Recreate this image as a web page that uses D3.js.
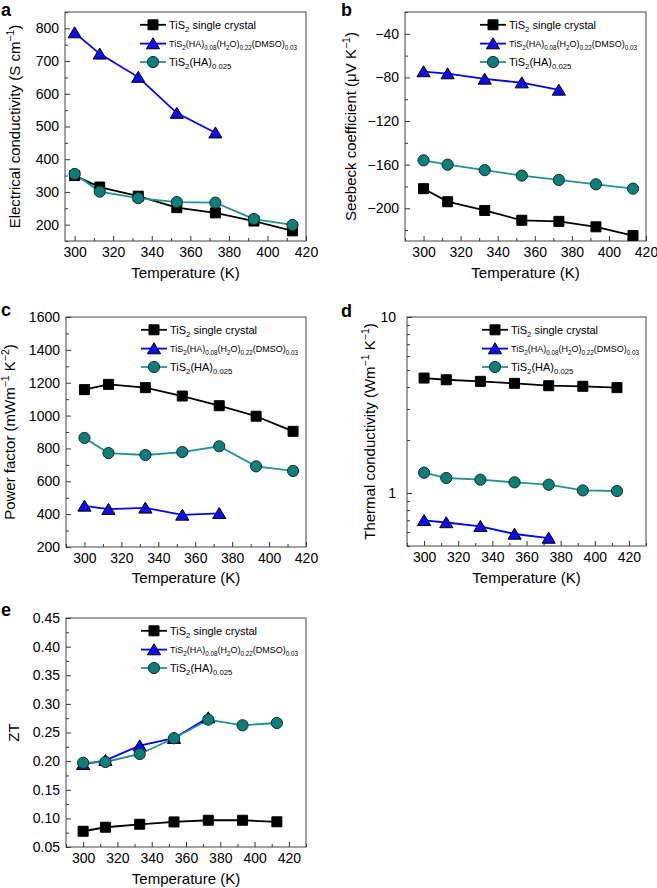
<!DOCTYPE html>
<html><head><meta charset="utf-8">
<script src="https://cdn.jsdelivr.net/npm/d3@7"></script>
<style>body{margin:0;background:#fff} svg{display:block} text{font-family:"Liberation Sans",Arial,Helvetica,sans-serif}</style>
</head><body><svg id="chart" width="657" height="888"></svg>
<script>
// ---------- data ----------
const temps = [300, 313, 333, 353, 373, 393, 413];
const tempsDMSO = [300, 313, 333, 353, 373];
const xTickLabels = [300, 320, 340, 360, 380, 400, 420];

// a: electrical conductivity (S cm^-1)
const condSingle = [350, 315, 287, 252, 236, 211, 181];
const condDMSO = [787, 722, 651, 541, 481];
const condHA = [355, 301, 281, 269, 267, 217, 199];
const condTicks = [200, 300, 400, 500, 600, 700, 800];

// b: Seebeck coefficient (uV K^-1)
const seebSingle = [-182, -194, -202, -211, -212, -217, -225];
const seebDMSO = [-74.6, -76.5, -81.4, -84.8, -91.5];
const seebHA = [-156, -160, -165, -170, -174, -178, -182];
const seebTicks = [-200, -160, -120, -80, -40];

// c: power factor (mW m^-1 K^-2)
const pfSingle = [1158, 1190, 1170, 1119, 1060, 996, 904];
const pfDMSO = [450, 430, 438, 395, 405];
const pfHA = [864, 772, 760, 778, 813, 691, 663];
const pfTicks = [200, 400, 600, 800, 1000, 1200, 1400, 1600];

// d: thermal conductivity (W m^-1 K^-1), log axis
const kSingle = [4.5, 4.4, 4.31, 4.2, 4.07, 4.04, 3.97];
const kDMSO = [0.70, 0.68, 0.647, 0.585, 0.555];
const kHA = [1.305, 1.217, 1.19, 1.15, 1.115, 1.035, 1.027];
const kTicks = [1, 10];

// e: ZT
const ztSingle = [0.0775, 0.0845, 0.0897, 0.0938, 0.0967, 0.0967, 0.094];
const ztDMSO = [0.1945, 0.2015, 0.227, 0.240, 0.276];
const ztHA = [0.197, 0.1985, 0.2125, 0.240, 0.2725, 0.2626, 0.2666];
const ztTicks = [0.05, 0.10, 0.15, 0.20, 0.25, 0.30, 0.35, 0.40, 0.45];

// legend labels: [text, isSubscript]
const legendSingle = [["TiS", 0], ["2", 1], [" single crystal", 0]];
const legendDMSO = [["TiS", 0], ["2", 1], ["(HA)", 0], ["0.08", 1], ["(H", 0], ["2", 1], ["O)", 0], ["0.22", 1], ["(DMSO)", 0], ["0.03", 1]];
const legendHA = [["TiS", 0], ["2", 1], ["(HA)", 0], ["0.025", 1]];

// ---------- styles ----------
const FONT = '"Liberation Sans",Arial,Helvetica,sans-serif';
const styles = {
  single: {line: "#000000", fill: "#000000", stroke: "#000000", sym: "square"},
  dmso:   {line: "#0000ff", fill: "#0d0df0", stroke: "#000000", sym: "triangle"},
  ha:     {line: "#21938f", fill: "#0f7d7a", stroke: "#0b2f2e", sym: "circle"}
};

const svg = d3.select("#chart");
svg.append("rect").attr("width", 657).attr("height", 888).attr("fill", "#fff");

function markerPath(sym) {
  if (sym === "square") return "M-5,-5H5V5H-5Z";
  if (sym === "triangle") return "M0,-5.8L6.6,5.2L-6.6,5.2Z";
  return d3.symbol(d3.symbolCircle, Math.PI * 5.6 * 5.6)();
}

function drawMarker(g, sym, st, cx, cy) {
  g.append("path").attr("d", markerPath(sym))
    .attr("transform", `translate(${cx},${cy})`)
    .attr("fill", st.fill).attr("stroke", st.stroke).attr("stroke-width", 1);
}

function richText(g, x, y, parts, size, opts = {}) {
  const t = g.append("text").attr("x", x).attr("y", y).attr("font-size", size).attr("fill", "#000");
  if (opts.transform) t.attr("transform", opts.transform);
  if (opts.anchor) t.attr("text-anchor", opts.anchor);
  let shifted = 0;
  parts.forEach(([s, mode]) => {
    const ts = t.append("tspan").text(s);
    // mode: 0 normal, 1 subscript, 2 superscript
    let target = mode === 1 ? size * 0.32 : mode === 2 ? -size * 0.38 : 0;
    const dy = target - shifted;
    if (dy !== 0) ts.attr("dy", dy);
    shifted = target;
    if (mode) ts.attr("font-size", size * 0.7);
  });
  return t;
}

function panel(cfg) {
  const [L, T, R, B] = cfg.box;
  const g = svg.append("g");
  const x = d3.scaleLinear().domain(cfg.xDomain).range([L, R]);
  const y = (cfg.log ? d3.scaleLog() : d3.scaleLinear()).domain(cfg.yDomain).range([B, T]);

  // x axis
  const xMinor = d3.range(290, 431, 10).filter(v => v >= cfg.xDomain[0] && v <= cfg.xDomain[1] && !xTickLabels.includes(v));
  const ax1 = g.append("g").attr("transform", `translate(0,${B})`)
    .call(d3.axisBottom(x).tickValues(xMinor).tickSize(-3).tickFormat(""));
  const ax2 = g.append("g").attr("transform", `translate(0,${B})`)
    .call(d3.axisBottom(x).tickValues(xTickLabels.filter(v => v >= cfg.xDomain[0] && v <= cfg.xDomain[1] + 0.5)).tickSize(-5).tickPadding(6).tickFormat(d3.format("d")));
  // y axis
  const ay1 = g.append("g").attr("transform", `translate(${L},0)`)
    .call(d3.axisLeft(y).tickValues(cfg.yMinor).tickSize(-3).tickFormat(""));
  const ay2 = g.append("g").attr("transform", `translate(${L},0)`)
    .call(d3.axisLeft(y).tickValues(cfg.yTicks).tickSize(-5).tickPadding(cfg.yPad || 6).tickFormat(cfg.yFormat));
  [ax1, ax2, ay1, ay2].forEach(a => {
    a.select(".domain").remove();
    a.attr("font-size", 14).attr("font-family", FONT);
    a.selectAll("line").attr("stroke", "#333").attr("stroke-width", 1);
    a.selectAll("text").attr("fill", "#000");
  });

  // frame
  g.append("rect").attr("x", L).attr("y", T).attr("width", R - L).attr("height", B - T)
    .attr("fill", "none").attr("stroke", "#444").attr("stroke-width", 1);

  // series
  cfg.series.forEach(s => {
    const st = styles[s.key];
    const pts = s.xs.map((t, i) => [x(t), y(s.ys[i])]);
    g.append("path").attr("d", d3.line()(pts)).attr("fill", "none")
      .attr("stroke", st.line).attr("stroke-width", 1.8);
  });
  cfg.series.forEach(s => {
    const st = styles[s.key];
    s.xs.forEach((t, i) => drawMarker(g, st.sym, st, x(t), y(s.ys[i])));
  });

  // legend
  const legend = [["single", legendSingle, 11], ["dmso", legendDMSO, 9], ["ha", legendHA, 11]];
  const rows = [12.8, 31.6, 50];
  legend.forEach(([key, parts, size], i) => {
    const st = styles[key];
    const ry = T + rows[i];
    g.append("line").attr("x1", L + 75).attr("x2", L + 101).attr("y1", ry).attr("y2", ry)
      .attr("stroke", st.line).attr("stroke-width", 1.8);
    drawMarker(g, st.sym, st, L + 88, ry);
    richText(g, L + 104, ry + size * 0.36, parts, size);
  });

  // titles
  richText(g, (L + R) / 2, cfg.xTitleY, [["Temperature (K)", 0]], 15, {anchor: "middle"});
  richText(g, 0, 0, cfg.yTitle, 15, {anchor: "middle",
    transform: `translate(${cfg.yTitleX},${(T + B) / 2}) rotate(-90)`});
  g.append("text").attr("x", cfg.letter[1]).attr("y", cfg.letter[2]).text(cfg.letter[0])
    .attr("font-size", 18).attr("font-weight", "bold").attr("fill", "#000");
}

panel({
  box: [65, 12, 306, 241], xDomain: [295, 420], yDomain: [150, 850],
  yTicks: condTicks, yMinor: d3.range(150, 851, 100), yFormat: d3.format("d"),
  xTitleY: 278, yTitleX: 20,
  yTitle: [["Electrical conductivity (S cm", 0], ["−1", 2], [")", 0]],
  letter: ["a", 1, 16],
  series: [
    {key: "single", xs: temps, ys: condSingle},
    {key: "dmso", xs: tempsDMSO, ys: condDMSO},
    {key: "ha", xs: temps, ys: condHA}
  ]
});

panel({
  box: [405, 12, 646, 241], xDomain: [290, 420], yDomain: [-230, -20],
  yTicks: seebTicks, yMinor: d3.range(-220, -19, 40), yFormat: d3.format("d"),
  xTitleY: 278, yTitleX: 356,
  yTitle: [["Seebeck coefficient (μV K", 0], ["−1", 2], [")", 0]],
  letter: ["b", 341, 16],
  series: [
    {key: "single", xs: temps, ys: seebSingle},
    {key: "dmso", xs: tempsDMSO, ys: seebDMSO},
    {key: "ha", xs: temps, ys: seebHA}
  ]
});

panel({
  box: [66, 317, 306, 547], xDomain: [290, 420], yDomain: [200, 1600],
  yTicks: pfTicks, yMinor: d3.range(300, 1600, 200), yFormat: d3.format("d"),
  xTitleY: 583, yTitleX: 15,
  yTitle: [["Power factor (mWm", 0], ["−1", 2], [" K", 0], ["−2", 2], [")", 0]],
  letter: ["c", 1, 316],
  series: [
    {key: "single", xs: temps, ys: pfSingle},
    {key: "dmso", xs: tempsDMSO, ys: pfDMSO},
    {key: "ha", xs: temps, ys: pfHA}
  ]
});

panel({
  box: [407, 317, 646, 546], xDomain: [290, 430], yDomain: [0.5, 10], log: true,
  yTicks: kTicks, yMinor: [0.5, 0.6, 0.7, 0.8, 0.9, 2, 3, 4, 5, 6, 7, 8, 9], yFormat: d3.format("d"), yPad: 11,
  xTitleY: 583, yTitleX: 375,
  yTitle: [["Thermal conductivity (Wm", 0], ["−1", 2], [" K", 0], ["−1", 2], [")", 0]],
  letter: ["d", 341, 317],
  series: [
    {key: "single", xs: temps, ys: kSingle},
    {key: "dmso", xs: tempsDMSO, ys: kDMSO},
    {key: "ha", xs: temps, ys: kHA}
  ]
});

panel({
  box: [66, 618, 306, 847], xDomain: [290, 430], yDomain: [0.05, 0.45],
  yTicks: ztTicks, yMinor: d3.range(0.075, 0.45, 0.05), yFormat: d3.format(".2f"),
  xTitleY: 884, yTitleX: 19,
  yTitle: [["ZT", 0]],
  letter: ["e", 1, 616],
  series: [
    {key: "single", xs: temps, ys: ztSingle},
    {key: "dmso", xs: tempsDMSO, ys: ztDMSO},
    {key: "ha", xs: temps, ys: ztHA}
  ]
});
</script></body></html>
